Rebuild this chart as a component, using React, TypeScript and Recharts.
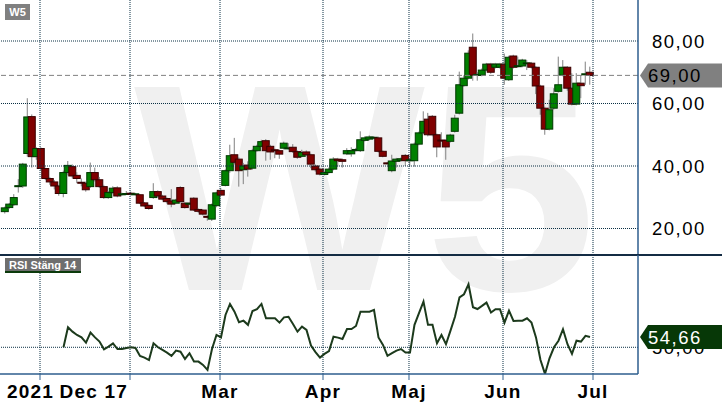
import React from 'react';
import { ComposedChart, Bar, Line, XAxis, YAxis, ReferenceLine } from 'recharts';

const opens = [25.4, 26.7, 27.6, 33.5, 33.6, 44.0, 55.8, 43.0, 45.6, 39.2, 36.0, 34.9, 33.6, 31.2, 37.9, 39.8, 37.0, 34.8, 34.5, 33.4, 37.9, 35.6, 33.4, 29.9, 31.5, 33.0, 30.9, 31.0, 31.3, 31.0, 30.8, 28.2, 27.4, 29.9, 31.8, 30.4, 29.6, 28.8, 28.1, 33.1, 28.1, 27.9, 29.7, 26.1, 25.9, 23.9, 23.0, 27.3, 32.2, 33.8, 38.5, 43.6, 42.2, 38.8, 40.3, 39.3, 44.9, 46.3, 48.1, 46.3, 45.2, 44.9, 45.7, 45.6, 46.0, 44.6, 43.1, 44.5, 43.6, 40.0, 39.0, 37.3, 37.9, 39.0, 42.2, 42.0, 43.9, 43.9, 45.0, 44.9, 48.2, 48.6, 49.1, 49.0, 44.7, 41.0, 38.5, 41.5, 41.8, 43.4, 41.9, 41.7, 47.0, 50.6, 55.0, 55.9, 50.0, 48.3, 48.2, 47.9, 51.1, 56.9, 65.7, 68.1, 78.0, 69.1, 69.1, 70.7, 72.6, 71.6, 71.6, 72.6, 67.6, 75.2, 71.9, 72.0, 72.8, 72.9, 71.6, 65.6, 58.5, 51.8, 58.5, 63.9, 69.1, 71.6, 64.9, 59.8, 66.5, 69.3, 70.0];
const highs = [27.0, 28.2, 31.0, 35.8, 41.0, 61.7, 56.5, 46.0, 46.0, 39.5, 36.5, 35.5, 34.0, 38.5, 41.6, 40.5, 38.0, 36.0, 35.0, 41.1, 39.5, 36.5, 34.0, 32.0, 33.5, 33.5, 31.5, 32.0, 31.8, 31.4, 31.0, 28.5, 27.8, 34.5, 32.2, 30.8, 30.0, 32.6, 29.5, 33.5, 28.4, 28.4, 30.0, 26.4, 26.1, 24.2, 28.0, 31.8, 33.0, 38.9, 46.8, 49.0, 42.8, 41.0, 41.5, 45.5, 46.8, 48.4, 48.6, 46.8, 45.6, 45.3, 47.8, 47.3, 47.0, 45.0, 45.2, 45.0, 44.0, 40.5, 39.4, 38.3, 39.5, 42.8, 42.6, 42.4, 45.7, 46.0, 45.8, 51.1, 49.5, 49.8, 49.6, 49.4, 45.0, 41.3, 43.6, 42.6, 42.7, 43.8, 42.4, 47.5, 51.0, 57.5, 57.0, 56.3, 50.4, 50.8, 48.6, 50.3, 56.4, 70.2, 69.0, 77.0, 82.4, 70.0, 71.2, 73.0, 73.0, 73.0, 73.0, 76.0, 75.3, 75.6, 75.0, 74.3, 73.9, 73.3, 72.0, 66.0, 59.0, 61.2, 64.9, 75.0, 73.9, 72.0, 69.7, 69.7, 69.0, 73.4, 71.8];
const lows = [24.8, 26.3, 27.2, 31.5, 33.0, 43.0, 39.5, 42.0, 38.5, 35.5, 34.0, 32.5, 30.5, 30.0, 37.0, 36.0, 34.5, 33.5, 31.8, 33.0, 35.0, 33.0, 29.5, 29.5, 31.0, 30.0, 30.5, 30.7, 30.5, 30.6, 27.8, 26.8, 26.0, 29.5, 29.8, 29.0, 28.0, 26.8, 27.8, 28.3, 26.4, 27.6, 25.6, 25.0, 24.2, 22.5, 22.4, 26.8, 30.4, 33.5, 37.8, 40.5, 33.4, 34.2, 36.6, 38.8, 44.5, 46.0, 41.7, 42.0, 42.5, 42.3, 45.3, 45.3, 44.2, 42.3, 42.8, 43.2, 39.3, 38.2, 37.0, 37.0, 37.5, 38.6, 39.8, 39.5, 43.5, 43.0, 44.5, 44.5, 47.8, 48.2, 48.6, 44.3, 42.8, 40.5, 38.0, 39.5, 41.3, 40.0, 39.8, 39.8, 46.6, 50.2, 49.5, 49.5, 42.8, 47.8, 42.0, 47.5, 50.7, 56.5, 65.3, 67.7, 67.3, 67.3, 68.7, 70.3, 69.5, 71.2, 71.2, 66.0, 67.2, 71.2, 71.5, 71.6, 70.7, 71.2, 63.0, 56.4, 50.0, 51.4, 58.0, 63.5, 68.7, 64.1, 59.4, 59.4, 61.7, 66.0, 66.0];
const closes = [26.6, 27.8, 29.9, 33.7, 40.6, 55.7, 43.0, 45.6, 39.2, 36.0, 34.9, 33.6, 31.2, 37.9, 40.2, 36.8, 36.0, 34.6, 32.4, 37.9, 35.6, 33.4, 29.9, 31.5, 32.9, 30.4, 31.1, 31.2, 31.0, 31.1, 28.1, 27.2, 26.4, 31.8, 30.4, 29.4, 28.6, 27.8, 29.1, 28.6, 26.7, 28.1, 25.9, 25.5, 24.6, 23.7, 27.6, 31.4, 30.7, 38.5, 43.3, 41.2, 38.5, 40.0, 39.0, 44.9, 46.3, 47.8, 44.9, 44.5, 45.1, 43.8, 47.3, 45.8, 44.6, 42.8, 44.3, 43.6, 40.6, 38.8, 37.4, 37.9, 39.0, 42.2, 41.7, 41.5, 44.9, 44.9, 45.3, 48.4, 49.0, 49.3, 49.2, 44.7, 43.1, 40.8, 41.6, 42.2, 42.3, 41.7, 42.0, 47.0, 50.6, 54.3, 50.0, 50.0, 46.1, 48.1, 46.1, 49.9, 55.3, 66.0, 68.1, 76.1, 69.1, 69.3, 70.7, 72.6, 70.0, 72.6, 72.6, 68.1, 74.8, 71.6, 72.1, 73.9, 73.0, 71.6, 65.6, 58.5, 51.8, 58.0, 63.1, 66.0, 71.6, 64.9, 59.8, 66.5, 65.7, 69.5, 69.0];

const rsiFirstIndex = 13;
const rsiValues = [50, 59.1, 57.1, 55.6, 54.5, 52.1, 56.7, 54.5, 52.6, 49.1, 50.3, 51.8, 49.2, 49.2, 49.7, 50, 49.7, 46.1, 45.3, 44.2, 51.8, 50, 48.8, 47.6, 46.1, 48.5, 48, 44.7, 47.3, 43.5, 43.5, 42, 39.7, 49.2, 55.6, 54.5, 64.7, 69.7, 66.2, 61.4, 62.1, 60.2, 66.5, 67.3, 69.7, 63.2, 63.2, 63.2, 61.2, 63.6, 63.9, 60.6, 57.1, 59.4, 57.9, 50.8, 47.8, 45.3, 47, 48.3, 54.8, 54.4, 53.8, 58.3, 58.3, 59.7, 66.2, 66.2, 66.2, 67, 54.5, 51.1, 46.1, 47.3, 48.5, 49.2, 47.6, 47.6, 60.2, 65.5, 70.8, 60.2, 60.2, 51.8, 55.6, 51.4, 57.6, 63.9, 72.7, 74.1, 78.6, 68.2, 67.4, 68.8, 70.3, 65.8, 67.3, 67.3, 61.2, 66.7, 62, 62.1, 62.1, 63.2, 61.2, 54.5, 44.2, 37.9, 45, 50, 53, 58.2, 51.4, 47, 53, 52.6, 55.2, 54.66];

const timeTicks = [7.78, 27.78, 47.78, 70.67, 89.78, 110.67, 130.67];
const timeLabels = ['2021', 'Dec 17', 'Mar', 'Apr', 'Maj', 'Jun', 'Jul'];
const priceTicks = [20, 40, 60, 80];
const rsiTicks = [50];
const lastPrice = 69.0;
const lastRsi = 54.66;
const xDomain: [number, number] = [-1.11, 140.67];
const priceDomain: [number, number] = [11.52, 93.12];
const rsiDomain: [number, number] = [37.86, 91.95];

const data = opens.map((o, i) => ({
  i,
  o,
  h: highs[i],
  l: lows[i],
  c: closes[i],
  range: [lows[i], highs[i]],
  rsi: i >= rsiFirstIndex ? rsiValues[i - rsiFirstIndex] : null,
}));

const W = 722;
const AXIS_W = 84;
const GRID = '#0a3044';
const AXIS = '#2e5e8e';
const FONT = 'Liberation Sans, Arial, sans-serif';

const fmt = (v: number) => v.toFixed(2).replace('.', ',');

const Candle = (props: any) => {
  const { x, y, width, height, payload } = props;
  if (x == null || y == null || !payload) return null;
  const top = Math.min(y, y + height);
  const bottom = Math.max(y, y + height);
  const { o, h, l, c } = payload;
  const cx = x + width / 2;
  const toY = (v: number) => (h === l ? top : top + ((h - v) / (h - l)) * (bottom - top));
  const up = c >= o;
  const bt = toY(Math.max(o, c));
  const bb = toY(Math.min(o, c));
  const bw = 7;
  return (
    <g>
      <line x1={cx} x2={cx} y1={top} y2={bottom} stroke="#808080" strokeWidth={1} />
      <rect
        x={cx - bw / 2}
        y={bt}
        width={bw}
        height={Math.max(bb - bt, 1)}
        fill={up ? '#008000' : '#800000'}
        stroke={up ? '#003800' : '#3a0000'}
        strokeWidth={1}
      />
    </g>
  );
};

const YTick = (props: any) => {
  const { x, y, payload } = props;
  return (
    <text x={x + 14} y={y} dy="0.36em" fontSize={18.5} fontFamily={FONT} fill="#000" letterSpacing={1.5}>
      {fmt(payload.value)}
    </text>
  );
};

const XTick = (props: any) => {
  const { x, y, payload, index } = props;
  const label = timeLabels[index] ?? '';
  let anchor: 'start' | 'middle' | 'end' = 'middle';
  let dx = 0;
  if (index === 0) {
    anchor = 'end';
    dx = 14;
  } else if (index === 1) {
    anchor = 'end';
    dx = -2;
  }
  return (
    <text x={x + dx} y={y + 18} textAnchor={anchor} fontSize={19} fontWeight="bold" fontFamily={FONT} fill="#000" letterSpacing={1.2}>
      {label}
    </text>
  );
};

const Badge = (props: any) => {
  const { viewBox, text, fill, color } = props;
  if (!viewBox) return null;
  const x0 = viewBox.x + viewBox.width + 2;
  const y = viewBox.y;
  const right = x0 + AXIS_W;
  const pts = `${x0},${y} ${x0 + 8},${y - 12} ${right},${y - 12} ${right},${y + 12} ${x0 + 8},${y + 12}`;
  return (
    <g>
      <polygon points={pts} fill={fill} />
      <text x={x0 + 8} y={y} dy="0.36em" fontSize={18.5} fontFamily={FONT} fill={color} letterSpacing={1.5}>
        {text}
      </text>
    </g>
  );
};

export default function App() {
  return (
    <div style={{ position: 'absolute', left: 0, top: 0, width: W, height: 410, background: '#fff', overflow: 'hidden' }}>
      <svg width={W} height={410} style={{ position: 'absolute', left: 0, top: 0 }}>
        <text
          x={0}
          y={0}
          transform="translate(134,290) scale(1.045,1)"
          fontSize={295}
          fontWeight="bold"
          fontFamily={FONT}
          fill="#f0f0f0"
        >
          W5
        </text>
      </svg>
      <div style={{ position: 'absolute', left: 0, top: 0 }}>
        <ComposedChart width={W} height={255} data={data} margin={{ top: 0, right: 0, bottom: 0, left: 0 }}>
          <XAxis dataKey="i" type="number" domain={xDomain} allowDataOverflow hide />
          <YAxis
            orientation="right"
            width={AXIS_W}
            domain={priceDomain}
            allowDataOverflow
            ticks={priceTicks}
            tickLine={false}
            tickSize={0}
            tickMargin={0}
            tick={<YTick />}
            axisLine={{ stroke: AXIS, strokeWidth: 1.5 }}
          />
          {priceTicks.map((v) => (
            <ReferenceLine key={'py' + v} y={v} stroke={GRID} strokeDasharray="1 1" />
          ))}
          {timeTicks.map((v) => (
            <ReferenceLine key={'px' + v} x={v} stroke={GRID} strokeDasharray="1 1" />
          ))}
          <ReferenceLine
            y={lastPrice}
            stroke="#808080"
            strokeDasharray="5 3"
            label={<Badge text={fmt(lastPrice)} fill="#808080" color="#000" />}
          />
          <Bar dataKey="range" barSize={7} shape={<Candle />} isAnimationActive={false} />
        </ComposedChart>
      </div>
      <div style={{ position: 'absolute', left: 0, top: 253 }}>
        <ComposedChart width={W} height={157} data={data} margin={{ top: 2, right: 0, bottom: 0, left: 0 }}>
          <XAxis
            dataKey="i"
            type="number"
            domain={xDomain}
            allowDataOverflow
            ticks={timeTicks}
            interval={0}
            height={36}
            tickSize={6}
            tickMargin={0}
            tickLine={{ stroke: AXIS }}
            axisLine={{ stroke: AXIS, strokeWidth: 1.5 }}
            tick={<XTick />}
          />
          <YAxis
            orientation="right"
            width={AXIS_W}
            domain={rsiDomain}
            allowDataOverflow
            ticks={rsiTicks}
            tickLine={false}
            tickSize={0}
            tickMargin={0}
            tick={<YTick />}
            axisLine={{ stroke: AXIS, strokeWidth: 1.5 }}
          />
          {rsiTicks.map((v) => (
            <ReferenceLine key={'ry' + v} y={v} stroke={GRID} strokeDasharray="1 1" />
          ))}
          {timeTicks.map((v) => (
            <ReferenceLine key={'rx' + v} x={v} stroke={GRID} strokeDasharray="1 1" />
          ))}
          <ReferenceLine
            segment={[
              { x: xDomain[0], y: rsiDomain[1] },
              { x: 200, y: rsiDomain[1] },
            ]}
            ifOverflow="visible"
            stroke="#142c44"
            strokeWidth={2}
          />
          <Line
            dataKey="rsi"
            type="linear"
            stroke="#1c3a1c"
            strokeWidth={2}
            dot={false}
            isAnimationActive={false}
            connectNulls={false}
          />
        </ComposedChart>
      </div>
      <div style={{ position: 'absolute', left: 0, top: 253 }}>
        <ComposedChart width={W} height={157} data={data} margin={{ top: 2, right: AXIS_W, bottom: 36, left: 0 }}>
          <XAxis dataKey="i" type="number" domain={xDomain} allowDataOverflow hide />
          <YAxis domain={rsiDomain} allowDataOverflow hide />
          <ReferenceLine
            y={lastRsi}
            stroke="none"
            strokeOpacity={0}
            ifOverflow="visible"
            label={<Badge text={fmt(lastRsi)} fill="#073807" color="#fff" />}
          />
        </ComposedChart>
      </div>
      <svg width={W} height={410} style={{ position: 'absolute', left: 0, top: 0, pointerEvents: 'none' }}>
        <rect x={5} y={4} width={25} height={16} fill="#808080" />
        <text x={17.5} y={16} textAnchor="middle" fontSize={11} fontWeight="bold" fontFamily={FONT} fill="#fff">
          W5
        </text>
        <rect x={5} y={258} width={76} height={14} fill="#6e6e6e" />
        <rect x={5} y={271} width={76} height={2} fill="#0b3a0b" />
        <text x={9} y={269} fontSize={11} fontWeight="bold" fontFamily={FONT} fill="#fff">
          RSI Stäng 14
        </text>
      </svg>
    </div>
  );
}
